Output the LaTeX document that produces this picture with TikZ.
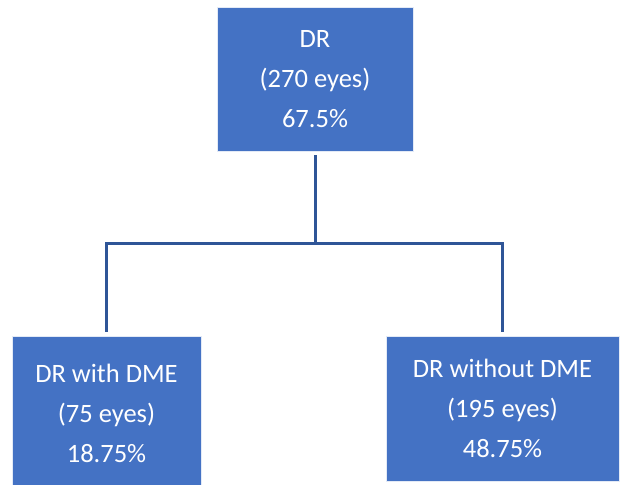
\documentclass[tikz,border=0pt]{standalone}
\usepackage{fontspec}
\setmainfont{Carlito}
\usepackage{tikz}
\usetikzlibrary{positioning}
\definecolor{boxblue}{HTML}{4472C4}
\definecolor{linkblue}{HTML}{2F5597}

\begin{document}
\begin{tikzpicture}[x=1pt, y=1pt,
    groupbox/.style={fill=boxblue, draw=white!85!boxblue, line width=0.8pt,
      text=white, align=center, inner sep=0pt,
      font=\fontsize{26.5}{40}\selectfont},
    link/.style={draw=linkblue, line width=3pt, shorten <=4pt, shorten >=4pt}]
      \useasboundingbox (0,0) rectangle (622,-485);

      % Boxes
      \node[groupbox, minimum width=196, minimum height=144] (dr) at (315,-79)
        {DR\\(270 eyes)\\67.5\%};
      \node[groupbox, minimum width=189, minimum height=154] (withdme) at (106.5,-413)
        {DR with DME\\(75 eyes)\\18.75\%};
      \node[groupbox, minimum width=233, minimum height=145] (withoutdme) at (502.5,-408.5)
        {DR without DME\\(195 eyes)\\48.75\%};

      % Tree links
      \coordinate (split) at (dr.south |- 0,-243);
      \draw[link, shorten >=0pt] (dr.south) -- (split);
      \draw[link, shorten <=0pt] (split) -| (withdme.north);
      \draw[link, shorten <=0pt] (split) -| (withoutdme.north);
\end{tikzpicture}
\end{document}
